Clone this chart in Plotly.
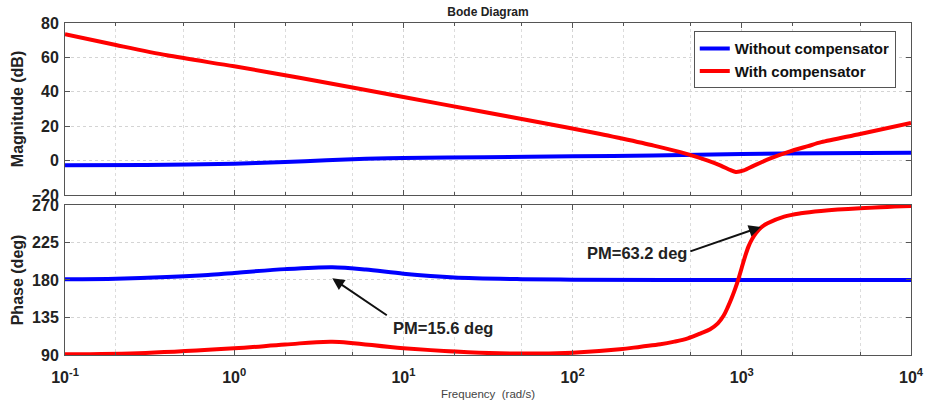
import math
import plotly.graph_objects as go
from plotly.subplots import make_subplots

# ---- data ----
mag_freq_blue = [0.1, 0.3, 1, 2, 3.5, 6, 10, 30, 100, 300, 1000, 3000, 10000]
mag_blue = [-2.7, -2.6, -1.8, -0.8, 0.2, 1.0, 1.5, 2.0, 2.5, 3.0, 3.8, 4.3, 4.6]

mag_freq_red = [0.1, 0.2, 0.4, 1, 2.43, 10, 30, 60, 146, 192, 302, 471, 630, 751,
                860, 921, 1028, 1180, 1490, 1870, 2460, 2950, 5000, 10000]
mag_red = [73.5, 67.2, 61.2, 54.8, 48.2, 37.0, 28.2, 22.7, 15.5, 13.0, 8.7, 3.9,
           0.0, -2.9, -5.6, -6.6, -5.7, -2.9, 1.4, 4.9, 8.4, 10.7, 15.5, 21.9]

ph_freq_blue = [0.1, 0.2, 0.4, 0.7, 1, 2, 3.8, 6, 10, 20, 50, 100, 1000, 10000]
ph_blue = [180.8, 181.5, 183.5, 186.0, 188.5, 193.0, 195.3, 192.5, 187.5, 183.0,
           181.0, 180.3, 180.0, 180.0]

ph_freq_red = [0.1, 0.3, 1, 2, 3.8, 10, 37, 100, 190, 253, 330, 400, 480, 572, 650,
               722, 780, 829, 870, 912, 958, 1000, 1045, 1095, 1150, 1210, 1300,
               1420, 1780, 2230, 2940, 5000, 10000]
ph_red = [90.8, 92.5, 98.0, 102.5, 106.0, 98.0, 92.0, 92.8, 96.8, 100.0, 102.8,
          106.0, 110.0, 116.0, 121.0, 128.0, 137.0, 148.0, 158.0, 169.0, 182.0,
          195.0, 208.0, 220.0, 229.0, 236.0, 243.0, 248.0, 256.0, 260.0, 262.8,
          266.0, 268.6]

series_names = ["Without compensator", "With compensator"]
x_tick_vals = [0.1, 1, 10, 100, 1000, 10000]
x_tick_text = ["10<sup>-1</sup>", "10<sup>0</sup>", "10<sup>1</sup>",
               "10<sup>2</sup>", "10<sup>3</sup>", "10<sup>4</sup>"]
mag_ticks = [-20, 0, 20, 40, 60, 80]
phase_ticks = [90, 135, 180, 225, 270]

# annotation anchors (data coords: frequency, phase)
pm1_head = (3.8, 182.0)
pm1_text = "PM=15.6 deg"
pm2_head = (1295, 243.6)
pm2_text = "PM=63.2 deg"

BLUE = "#0000FF"
RED = "#FF0000"
FONT = "Liberation Sans, Arial, sans-serif"
AXC = "#555555"
TXT = "#222222"

fig = make_subplots(rows=2, cols=1, shared_xaxes=False, vertical_spacing=0.03)

fig.add_trace(go.Scatter(x=mag_freq_blue, y=mag_blue, mode="lines", name=series_names[0],
                         line=dict(color=BLUE, width=4, shape="spline", smoothing=0.8)),
              row=1, col=1)
fig.add_trace(go.Scatter(x=mag_freq_red, y=mag_red, mode="lines", name=series_names[1],
                         line=dict(color=RED, width=4, shape="spline", smoothing=0.8)),
              row=1, col=1)
fig.add_trace(go.Scatter(x=ph_freq_blue, y=ph_blue, mode="lines", showlegend=False,
                         line=dict(color=BLUE, width=4, shape="spline", smoothing=0.8)),
              row=2, col=1)
fig.add_trace(go.Scatter(x=ph_freq_red, y=ph_red, mode="lines", showlegend=False,
                         line=dict(color=RED, width=4, shape="spline", smoothing=1.0)),
              row=2, col=1)

axis_common = dict(
    showline=True, linecolor=AXC, linewidth=1, mirror="ticks",
    ticks="inside", ticklen=5, tickcolor=AXC,
    showgrid=True, gridcolor="#D4D4D4", gridwidth=1, griddash="dot",
    zeroline=False, automargin=False,
    tickfont=dict(family=FONT, size=16, color=TXT, weight="bold"),
)

xcommon = dict(axis_common, type="log", range=[-1, 4],
               tickvals=x_tick_vals,
               minor=dict(showgrid=True, gridcolor="#DCDCDC", griddash="dot",
                          ticks="inside", ticklen=3, tickcolor=AXC))

fig.update_xaxes(xcommon, row=1, col=1, showticklabels=False)
fig.update_xaxes(xcommon, row=2, col=1, ticktext=x_tick_text, ticklabelstandoff=8,
                 title=dict(text="Frequency  (rad/s)", standoff=4,
                            font=dict(family=FONT, size=11.5, color="#444444")))

fig.update_yaxes(axis_common, row=1, col=1, range=[-20, 80], tickvals=mag_ticks,
                 ticklabelstandoff=2,
                 title=dict(text="Magnitude (dB)", standoff=4,
                            font=dict(family=FONT, size=16, color=TXT, weight="bold")))
fig.update_yaxes(axis_common, row=2, col=1, range=[90, 270], tickvals=phase_ticks,
                 ticklabelstandoff=2,
                 title=dict(text="Phase (deg)", standoff=4,
                            font=dict(family=FONT, size=16, color=TXT, weight="bold")))

fig.update_layout(
    width=926, height=401,
    margin=dict(l=65, r=15, t=23, b=46),
    paper_bgcolor="white", plot_bgcolor="white",
    yaxis=dict(domain=[0.482, 1.0]),
    yaxis2=dict(domain=[0.0, 0.452]),
    title=dict(text="Bode Diagram", x=0.527, xanchor="center", y=0.97, yanchor="middle",
               font=dict(family=FONT, size=12, color=TXT, weight="bold")),
    legend=dict(x=0.982, y=0.975, xanchor="right", yanchor="top",
                bgcolor="white", bordercolor=AXC, borderwidth=1,
                font=dict(family=FONT, size=15, color="#111111", weight="bold"),
                itemwidth=30, tracegroupgap=0),
    showlegend=True,
)

fig.add_annotation(x=math.log10(pm1_head[0]), y=pm1_head[1], xref="x2", yref="y2",
                   text="", showarrow=True, ax=56, ay=38, axref="pixel", ayref="pixel",
                   arrowhead=2, arrowsize=1.2, arrowwidth=2, arrowcolor="#111111")
fig.add_annotation(x=math.log10(pm1_head[0]), y=pm1_head[1], xref="x2", yref="y2",
                   text=pm1_text, showarrow=False, xshift=111, yshift=-50,
                   font=dict(family=FONT, size=16.5, color=TXT, weight="bold"))
fig.add_annotation(x=math.log10(pm2_head[0]), y=pm2_head[1], xref="x2", yref="y2",
                   text="", showarrow=True, ax=-72, ay=25, axref="pixel", ayref="pixel",
                   arrowhead=2, arrowsize=1.2, arrowwidth=2, arrowcolor="#111111")
fig.add_annotation(x=math.log10(pm2_head[0]), y=pm2_head[1], xref="x2", yref="y2",
                   text=pm2_text, showarrow=False, xshift=-124, yshift=-26,
                   font=dict(family=FONT, size=16.5, color=TXT, weight="bold"))

fig.write_html("out.html")
